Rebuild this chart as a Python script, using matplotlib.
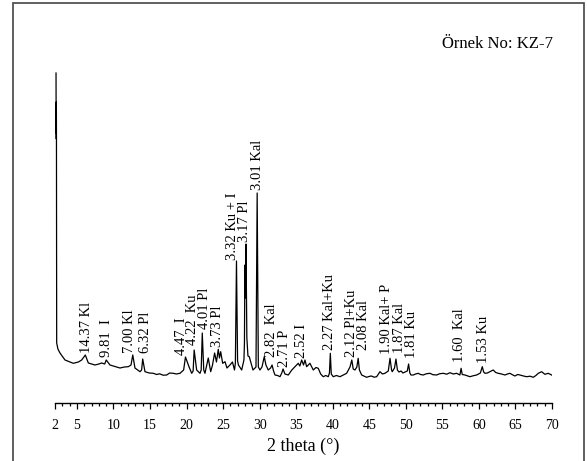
import matplotlib
matplotlib.use("Agg")
import matplotlib.pyplot as plt
from matplotlib.patches import Rectangle
from matplotlib.ticker import MultipleLocator, FixedLocator

plt.rcParams['font.family'] = ['Liberation Serif', 'DejaVu Serif']

# Diffractogram of sample KZ-7: 2-theta (degrees) and intensity (counts)
two_theta = [
    2.14, 2.15, 2.16, 2.17, 2.18, 2.19, 2.20, 2.23, 2.40, 2.68, 3.37, 4.50,
    5.20, 5.65, 6.15, 6.56, 7.00, 7.47, 8.00, 8.39, 8.80, 9.01, 9.52, 10.20,
    10.89, 11.50, 12.03, 12.40, 12.64, 12.94, 13.30, 13.63, 13.85, 14.00, 14.31,
    14.90, 15.45, 15.90, 16.30, 16.80, 17.28, 17.70, 18.18, 18.60, 19.10, 19.60,
    19.85, 20.33, 20.70, 20.90, 21.04, 21.38, 21.84, 22.00, 22.15, 22.35, 22.52,
    22.97, 23.30, 23.55, 23.84, 24.09, 24.34, 24.50, 24.67, 24.94, 25.26, 25.53,
    25.94, 26.28, 26.56, 26.68, 26.83, 26.98, 27.10, 27.54, 27.85, 27.92, 27.98,
    28.04, 28.13, 28.25, 28.40, 28.58, 29.09, 29.50, 29.66, 29.82, 30.04, 30.32,
    30.63, 30.86, 31.18, 31.50, 31.70, 31.90, 32.10, 32.45, 32.78, 33.03, 33.20,
    33.46, 33.92, 34.40, 34.83, 35.28, 35.50, 35.75, 36.00, 36.20, 36.43, 36.88,
    37.34, 37.70, 38.02, 38.35, 38.70, 39.05, 39.39, 39.55, 39.67, 39.80, 40.07,
    40.50, 40.99, 41.45, 41.90, 42.36, 42.61, 42.80, 43.04, 43.30, 43.48, 43.65,
    43.96, 44.30, 44.64, 45.00, 45.30, 45.65, 46.01, 46.46, 46.80, 47.14, 47.60,
    47.84, 48.05, 48.14, 48.45, 48.65, 48.85, 49.06, 49.35, 49.60, 49.90, 50.20,
    50.38, 50.55, 50.70, 51.02, 51.35, 51.70, 52.00, 52.38, 52.80, 53.30, 53.70,
    54.22, 54.60, 55.12, 55.60, 56.04, 56.50, 56.95, 57.40, 57.56, 57.72, 58.09,
    58.40, 58.77, 59.20, 59.69, 60.20, 60.46, 60.65, 60.82, 61.15, 61.51, 61.96,
    62.30, 62.64, 63.10, 63.56, 63.90, 64.24, 64.60, 64.93, 65.30, 65.61, 66.10,
    66.53, 67.00, 67.43, 67.80, 68.12, 68.58, 69.03, 69.48, 69.95,
]
intensity = [
    3300, 2950, 2700, 3010, 2640, 2900, 2630, 600, 540, 500, 430, 397,
    410, 430, 480, 400, 390, 380, 390, 400, 390, 430, 380, 365,
    350, 360, 363, 380, 480, 350, 330, 313, 330, 440, 313,
    300, 297, 285, 292, 278, 280, 300, 297, 290, 297, 330,
    460, 363, 297, 320, 530, 330, 297, 330, 700, 330, 297,
    450, 313, 380, 500, 410, 537, 450, 513, 397, 413, 350,
    380, 410, 330, 400, 1420, 420, 380, 330, 430, 600, 1380,
    1050, 1590, 650, 470, 463, 330, 360, 2100, 360, 330, 360,
    463, 380, 330, 350, 380, 320, 280, 275, 263, 300, 340,
    290, 280, 330, 363, 397, 370, 430, 380, 430, 363, 397,
    330, 355, 347, 290, 263, 275, 263, 300, 497, 290, 263,
    275, 263, 280, 297, 360, 430, 340, 330, 360, 447, 330,
    280, 268, 257, 266, 270, 258, 263, 313, 290, 297, 320,
    447, 330, 313, 350, 440, 330, 310, 320, 300, 310, 320,
    390, 300, 280, 280, 290, 297, 285, 280, 292, 297, 283,
    280, 292, 297, 288, 303, 290, 297, 280, 347, 285, 280,
    272, 263, 272, 280, 300, 363, 310, 297, 300, 313, 330,
    305, 297, 290, 280, 290, 297, 282, 270, 285, 280, 270,
    263, 268, 257, 275, 297, 313, 287, 297, 280,
]

# Peak annotations: label position (2-theta), label base (counts), text
label_x = [6.33, 9.07, 12.26, 14.45, 19.30, 20.85, 22.50, 24.26, 26.28, 27.97,
           29.77, 31.64, 33.46, 35.75, 39.62, 42.59, 44.18, 47.30, 49.15, 50.78,
           57.40, 60.59]
label_y = [500, 460, 500, 500, 480, 580, 740, 560, 1430, 1610,
           2130, 460, 360, 450, 530, 460, 530, 490, 500, 450,
           410, 400]
label_text = ["14.37 Kl", "9.81  I", "7.00 Kl", "6.32 Pl", "4.47  I", "4.22  Ku",
              "4.01 Pl", "3.73 Pl", "3.32 Ku + I", "3.17 Pl", "3.01 Kal",
              "2.82  Kal", "2.71 P", "2.52 I", "2.27 Kal+Ku", "2.12 Pl+Ku",
              "2.08 Kal", "1.90 Kal+ P", "1.87 Kal", "1.81 Ku", "1.60  Kal",
              "1.53 Ku"]

tick_values = [2, 5, 10, 15, 20, 25, 30, 35, 40, 45, 50, 55, 60, 65, 70]

W, H = 587, 461
fig = plt.figure(figsize=(W / 100, H / 100), dpi=100)
ax = fig.add_axes([55 / W, (H - 403) / H, (552 - 55) / W, 340 / H])

ax.plot(two_theta, intensity, color='black', lw=0.9)

for x, y, t in zip(label_x, label_y, label_text):
    ax.text(x, y, t, rotation=90, ha='center', va='bottom', fontsize=10.5,
            linespacing=1.0)

ax.set_xlim(2, 70)
ax.set_ylim(0, 3400)
for side in ('left', 'top', 'right'):
    ax.spines[side].set_visible(False)
ax.spines['bottom'].set_linewidth(1.0)
ax.set_yticks([])
ax.xaxis.set_major_locator(FixedLocator(tick_values))
ax.xaxis.set_minor_locator(MultipleLocator(1))
ax.set_xticklabels([str(v) for v in tick_values])
ax.tick_params(axis='x', which='major', direction='out', length=4.3, width=0.9,
               pad=7, labelsize=10)
ax.tick_params(axis='x', which='minor', direction='out', length=2.4, width=0.9)
ax.patch.set_visible(False)

fig.text(303.5 / W, (H - 446) / H, "2 theta (°)", ha='center', va='center',
         fontsize=13)
fig.text(553 / W, (H - 44) / H, "Örnek No: KZ-7", ha='right', va='center',
         fontsize=12)

# Outer frame around the figure
fig.patches.append(Rectangle((13 / W, -0.05), (584 - 13) / W, 1.05 - 3 / H,
                             transform=fig.transFigure, fill=False,
                             edgecolor='#444444', lw=1.2))

fig.savefig("out.png", dpi=100)
